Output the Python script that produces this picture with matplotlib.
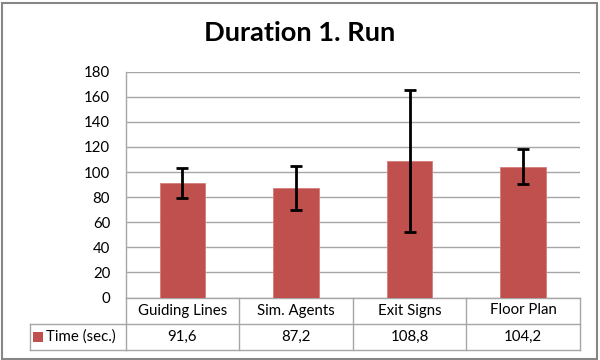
import matplotlib
matplotlib.use("Agg")
import matplotlib.pyplot as plt
import matplotlib.transforms as mtransforms
from matplotlib.lines import Line2D
from matplotlib.patches import Rectangle

categories = ["Guiding Lines", "Sim. Agents", "Exit Signs", "Floor Plan"]
values = [91.6, 87.2, 108.8, 104.2]
errors = [12.0, 17.4, 56.8, 14.0]
value_labels = ["91,6", "87,2", "108,8", "104,2"]
series_name = "Time (sec.)"
title = "Duration 1. Run"
yticks = [0, 20, 40, 60, 80, 100, 120, 140, 160, 180]

plt.rcParams['font.family'] = ['Lato', 'DejaVu Sans']
BAR = "#C0504D"
GRID = "#A6A6A6"
FS = 10.8

W, H = 600, 360
fig = plt.figure(figsize=(6, 3.6), dpi=100)
ax = fig.add_axes([125.5 / W, 1 - 297.5 / H, (580 - 125.5) / W, (297.5 - 71.7) / H])

x = list(range(len(categories)))
ax.bar(x, values, width=0.4, color=BAR, edgecolor="#D47C7A", linewidth=0.6, zorder=3)
ax.errorbar(x, values, yerr=errors, fmt="none", ecolor="black", elinewidth=2,
            capsize=4, capthick=2, zorder=4)

ax.set_xlim(-0.5, len(categories) - 0.5)
ax.set_ylim(0, 180)
ax.set_yticks(yticks)
ax.set_yticklabels([str(t) for t in yticks], fontsize=FS)
ax.yaxis.grid(True, color=GRID, linewidth=1, zorder=0)
ax.set_axisbelow(True)
ax.tick_params(axis="y", length=0, pad=11)
ax.tick_params(axis="x", length=0, labelbottom=False)
for s in ["top", "right"]:
    ax.spines[s].set_visible(False)
for s in ["left", "bottom"]:
    ax.spines[s].set_color(GRID)
    ax.spines[s].set_linewidth(1)

fig.text(0.5, 1 - 33 / H, title, ha="center", va="center", fontsize=19.6, fontweight="bold")

# Data table below the axis
bt = mtransforms.blended_transform_factory(ax.transData, fig.transFigure)
y_axis = 1 - 297.5 / H
y_mid = 1 - 323.5 / H
y_bot = 1 - 350 / H
x_leg = 30 / W
n = len(categories)
lw = 1
fig.add_artist(Line2D([-0.5, n - 0.5], [y_mid, y_mid], transform=bt, color=GRID, lw=lw))
fig.add_artist(Line2D([x_leg, 125.5 / W], [y_mid, y_mid], transform=fig.transFigure, color=GRID, lw=lw))
fig.add_artist(Line2D([-0.5, n - 0.5], [y_bot, y_bot], transform=bt, color=GRID, lw=lw))
fig.add_artist(Line2D([x_leg, 125.5 / W], [y_bot, y_bot], transform=fig.transFigure, color=GRID, lw=lw))
for i in range(n + 1):
    fig.add_artist(Line2D([i - 0.5, i - 0.5], [y_bot, y_axis], transform=bt, color=GRID, lw=lw))
fig.add_artist(Line2D([x_leg, x_leg], [y_bot, y_mid], transform=fig.transFigure, color=GRID, lw=lw))

for i, (c, v) in enumerate(zip(categories, value_labels)):
    fig.text(i, (y_axis + y_mid) / 2, c, transform=bt, ha="center", va="center", fontsize=FS)
    fig.text(i, (y_mid + y_bot) / 2, v, transform=bt, ha="center", va="center", fontsize=FS)

ym = (y_mid + y_bot) / 2
fig.add_artist(Rectangle((33 / W, ym - 5 / H), 10 / W, 10 / H, transform=fig.transFigure,
                         facecolor=BAR, edgecolor="none"))
fig.text(46 / W, ym, series_name, ha="left", va="center", fontsize=FS)

# outer chart border
fig.add_artist(Rectangle((1.5 / W, 1.5 / H), (W - 4.5) / W, (H - 4) / H, transform=fig.transFigure,
                         facecolor="none", edgecolor="#868686", lw=1.5))

fig.savefig("out.png", dpi=100)
